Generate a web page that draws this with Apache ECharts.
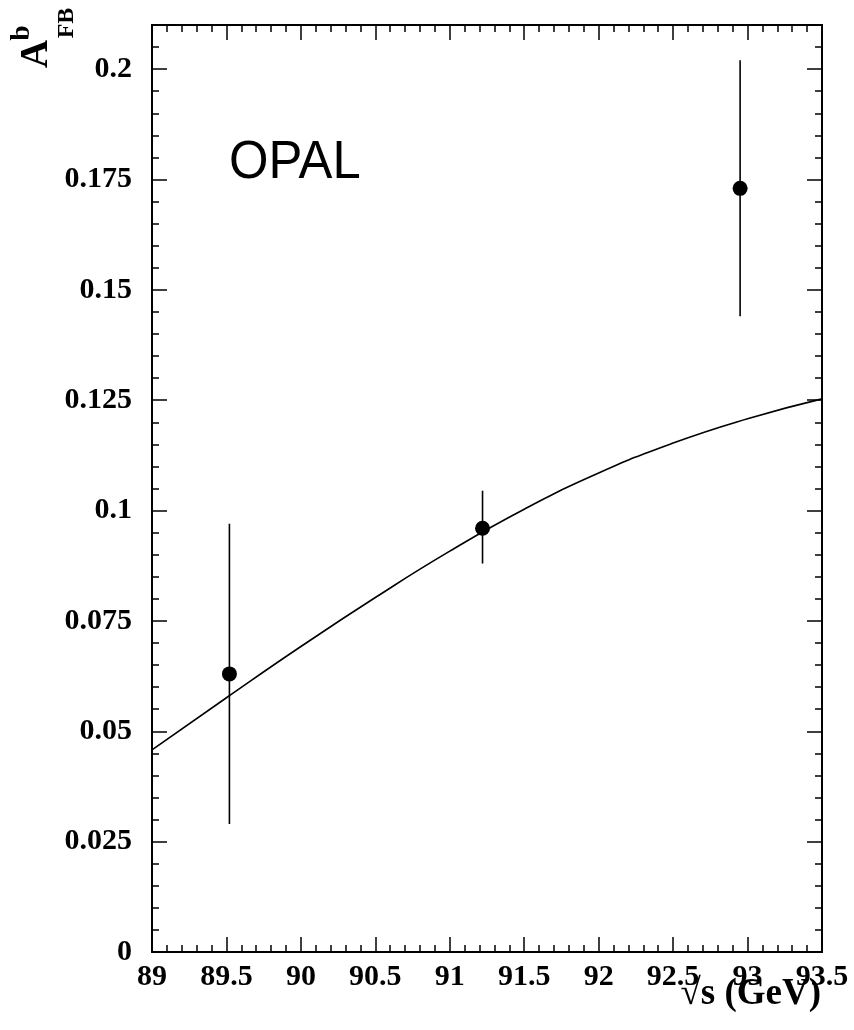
<!DOCTYPE html>
<html>
<head>
    <meta charset="UTF-8">
    <title>OPAL A_FB^b</title>
    <script src="https://cdn.jsdelivr.net/npm/echarts@6/dist/echarts.min.js"></script>
</head>
<style type="text/css">
    html, body { margin: 0; padding: 0; background: #fff; }
    #main { width: 854px; height: 1030px; }
</style>
<body>
    <div id="main"></div>
</body>
<script>
    // measured points: sqrt(s), A_FB, error low, error high
    var sqrtS   = [89.52, 91.22, 92.95];
    var afb     = [0.063, 0.096, 0.173];
    var errLow  = [0.029, 0.088, 0.144];
    var errHigh = [0.097, 0.1045, 0.202];

    // standard model curve
    var curveX = [89, 89.5, 90, 90.5, 91, 91.5, 92, 92.5, 93, 93.5];
    var curveY = [0.0458, 0.0576, 0.0692, 0.0803, 0.0908, 0.1003, 0.1085, 0.1153, 0.1208, 0.1253];

    var myChart = echarts.init(document.getElementById('main'));

    var font = 'Liberation Serif';
    var labelStyle = { fontFamily: font, fontWeight: 'bold', fontSize: 30, color: '#000' };

    function yFmt(v) {
        if (v > 0.2001) return '';
        return String(+v.toFixed(3));
    }

    function xAxisCfg(pos, showLabel) {
        return {
            type: 'value', position: pos, min: 89, max: 93.5, interval: 0.5,
            axisLine: { show: true, onZero: false, lineStyle: { color: '#000', width: 2 } },
            axisTick: { show: true, inside: true, length: 15, lineStyle: { color: '#000', width: 1.5 } },
            minorTick: { show: true, splitNumber: 5, length: 7, lineStyle: { color: '#000', width: 1.5 } },
            splitLine: { show: false },
            axisLabel: showLabel ? Object.assign({ margin: 10, formatter: function (v) { return String(+v.toFixed(1)); } }, labelStyle) : { show: false }
        };
    }

    function yAxisCfg(pos, major) {
        return {
            type: 'value', position: pos, min: 0, max: 0.21,
            interval: major ? 0.025 : 0.005,
            axisLine: { show: true, onZero: false, lineStyle: { color: '#000', width: 2 } },
            axisTick: { show: true, inside: true, length: major ? 15 : 7, lineStyle: { color: '#000', width: 1.5 } },
            splitLine: { show: false },
            axisLabel: (major && pos === 'left') ? Object.assign({ margin: 20, formatter: yFmt }, labelStyle) : { show: false }
        };
    }

    var curveData = curveX.map(function (x, i) { return [x, curveY[i]]; });
    var pointData = sqrtS.map(function (x, i) { return [x, afb[i]]; });
    var errData = sqrtS.map(function (x, i) { return [x, errLow[i], errHigh[i]]; });

    var option = {
        backgroundColor: '#fff',
        animation: false,
        grid: { left: 152, right: 32, top: 25, bottom: 78 },
        xAxis: [xAxisCfg('bottom', true), xAxisCfg('top', false)],
        yAxis: [yAxisCfg('left', true), yAxisCfg('left', false), yAxisCfg('right', true), yAxisCfg('right', false)],
        series: [
            {
                type: 'line', data: curveData, smooth: true, showSymbol: false,
                lineStyle: { color: '#000', width: 1.6 }, z: 2
            },
            {
                type: 'custom', data: errData,
                encode: { x: 0, y: [1, 2] },
                renderItem: function (params, api) {
                    var lo = api.coord([api.value(0), api.value(1)]);
                    var hi = api.coord([api.value(0), api.value(2)]);
                    return {
                        type: 'line',
                        shape: { x1: lo[0], y1: lo[1], x2: hi[0], y2: hi[1] },
                        style: { stroke: '#000', lineWidth: 1.6 }
                    };
                },
                z: 3
            },
            {
                type: 'scatter', data: pointData, symbol: 'circle', symbolSize: 15,
                itemStyle: { color: '#000', opacity: 1 }, z: 4
            }
        ],
        graphic: [
            {
                type: 'text', x: 229, y: 136, scaleX: 0.94,
                style: { text: 'OPAL', fontFamily: 'Liberation Sans', fontSize: 54, fontWeight: 'normal', fill: '#000' }
            },
            {
                type: 'text', right: 33, top: 976,
                style: { text: '\u221As (GeV)', fontFamily: font, fontWeight: 'bold', fontSize: 37, fill: '#000' }
            },
            {
                type: 'text', x: 37, y: 54, rotation: Math.PI / 2,
                style: { text: 'A', fontFamily: font, fontWeight: 'bold', fontSize: 39, fill: '#000', align: 'center', verticalAlign: 'middle' }
            },
            {
                type: 'text', x: 22, y: 33, rotation: Math.PI / 2,
                style: { text: 'b', fontFamily: font, fontWeight: 'bold', fontSize: 27, fill: '#000', align: 'center', verticalAlign: 'middle' }
            },
            {
                type: 'text', x: 67, y: 23, rotation: Math.PI / 2,
                style: { text: 'FB', fontFamily: font, fontWeight: 'bold', fontSize: 24, fill: '#000', align: 'center', verticalAlign: 'middle' }
            }
        ]
    };

    myChart.setOption(option);
</script>
</html>
